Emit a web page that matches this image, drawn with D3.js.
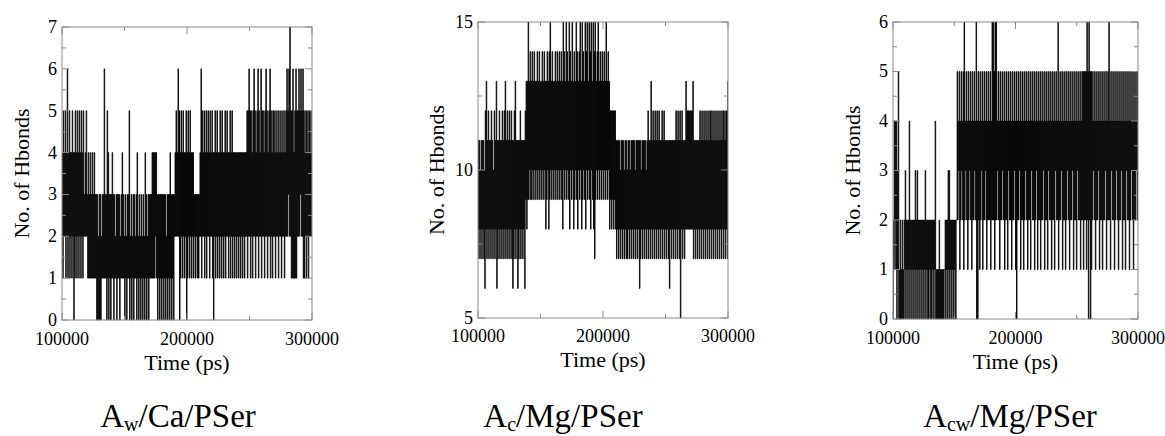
<!DOCTYPE html>
<html><head><meta charset="utf-8">
<script src="https://cdn.jsdelivr.net/npm/d3@7"></script>
<style>body{margin:0;background:#fff}</style>
</head><body><svg id="c" width="1165" height="436" font-family="'Liberation Serif', 'Times New Roman', Times, Tinos, 'DejaVu Serif', serif"></svg>
<script>
// ---- data: number of H-bonds, samples evenly spaced in time ----
const timeRange = [100000, 300000];
const xTickValues = [100000, 200000, 300000];
const xMinorTickValues = [150000, 250000];

// Aw/Ca/PSer
const hbondsAwCa = [
 2,4,1,5,2,4,2,5,1,4,2,6,1,4,2,5,1,4,2,4,
 1,5,2,4,0,4,1,5,2,4,1,5,2,4,1,5,2,4,1,5,
 2,4,1,5,2,3,2,4,2,5,2,3,1,4,1,3,1,4,1,3,
 1,4,1,3,1,4,1,3,1,3,0,3,0,2,0,3,0,3,0,2,
 1,3,1,3,1,6,1,3,1,3,0,5,1,4,0,3,1,3,0,3,
 1,4,1,3,0,3,1,2,1,3,0,3,1,3,1,3,0,2,1,3,
 1,4,1,3,1,2,0,3,1,2,0,3,1,3,1,5,0,2,1,3,
 0,2,1,3,0,3,1,2,1,3,0,4,1,2,0,3,1,2,0,3,
 1,2,0,3,1,2,0,4,1,3,0,2,1,3,0,3,1,3,1,3,
 1,4,1,4,1,4,1,4,2,4,1,3,0,3,1,3,0,3,1,3,
 0,3,1,3,0,3,1,3,0,2,1,3,0,3,1,3,0,4,1,3,
 0,3,1,3,0,3,2,4,2,5,2,4,2,6,2,5,0,4,1,5,
 2,4,1,5,2,4,1,4,2,5,0,4,1,5,2,4,1,5,2,4,
 1,4,2,4,1,3,2,3,1,3,2,3,1,3,1,3,2,4,2,6,
 1,5,2,4,2,5,1,4,2,5,1,4,2,5,2,4,1,5,2,4,
 2,5,1,4,0,4,2,5,1,4,2,5,1,4,2,4,1,5,2,4,
 1,5,2,4,1,4,2,5,1,4,2,5,2,4,1,4,2,5,1,4,
 2,5,1,4,2,4,1,4,2,4,1,4,2,4,1,4,2,4,1,4,
 2,4,1,4,2,4,1,4,2,4,2,5,1,5,2,6,2,5,1,5,
 2,4,1,5,2,6,2,5,1,4,2,5,2,6,1,5,2,4,2,6,
 1,5,2,5,2,4,1,5,2,6,2,5,1,4,2,5,2,6,1,5,
 2,4,1,5,2,5,2,4,1,5,2,4,2,5,1,4,2,5,2,4,
 1,5,2,4,2,5,1,4,2,5,2,6,2,5,3,6,2,7,2,5,
 1,5,1,6,1,4,1,5,1,6,1,5,2,5,2,6,2,5,3,6,
 2,5,2,6,1,5,1,4,2,5,1,5,2,4,1,5,2,5,2,4,2,5
];
// Ac/Mg/PSer
const hbondsAcMg = [
 7,11,8,11,7,10,8,11,7,11,8,11,7,10,6,12,8,13,7,11,
 8,12,7,11,8,11,7,12,8,11,7,10,8,12,7,11,8,13,6,11,
 7,11,8,12,7,11,8,11,7,12,8,11,7,12,8,13,7,11,8,12,
 7,11,8,12,7,11,8,12,7,11,6,11,7,12,8,13,7,11,8,11,
 6,11,7,11,8,12,7,11,8,11,7,11,8,11,6,12,9,13,8,13,
 9,15,9,13,10,14,9,13,9,14,10,13,9,14,10,13,9,13,10,14,
 9,13,10,14,9,13,10,13,9,14,10,13,9,14,10,13,8,13,9,14,
 10,13,8,14,9,15,10,13,9,14,10,13,9,13,10,14,9,13,10,14,
 9,13,10,14,9,13,10,14,9,13,8,15,10,14,9,13,10,15,9,14,
 10,13,9,15,8,14,10,13,9,15,10,13,8,14,9,13,10,15,9,14,
 8,13,10,14,9,15,10,13,8,15,9,14,10,13,9,15,8,14,10,15,
 9,13,10,15,9,14,8,15,10,13,9,15,8,14,7,15,9,13,10,14,
 9,15,10,13,9,14,10,13,9,14,10,13,9,14,10,13,9,15,10,13,
 9,14,10,13,8,12,9,12,8,12,9,12,8,12,9,12,8,11,7,11,
 8,11,7,11,8,10,7,11,8,11,7,11,8,10,7,11,8,11,7,10,
 7,11,8,11,7,10,8,11,7,11,8,11,7,11,8,10,7,11,8,11,
 7,11,8,11,6,11,7,10,8,11,7,11,8,11,7,11,8,10,7,11,
 8,12,7,11,8,11,7,13,8,11,7,12,8,11,7,12,8,11,7,12,
 8,11,7,12,8,11,7,11,8,12,7,11,8,12,7,11,8,11,7,11,
 8,11,7,11,6,11,8,11,7,11,8,11,7,11,8,11,7,12,8,11,
 7,12,8,11,7,12,5,11,8,12,7,11,8,11,7,11,8,13,8,12,
 8,12,8,12,8,12,8,12,8,12,8,13,7,11,8,11,7,11,8,11,
 7,11,8,11,7,12,8,11,7,12,8,11,7,12,8,11,7,12,8,11,
 7,12,8,11,7,12,8,12,7,11,8,12,7,11,8,12,7,11,8,12,
 7,11,8,12,7,11,8,12,7,11,8,12,7,12,8,11,7,12,8,12,7,13
];
// Acw/Mg/PSer
const hbondsAcwMg = [
 0,2,1,4,2,4,1,4,0,3,1,5,0,1,0,2,0,1,0,2,
 0,1,0,2,1,3,0,2,1,2,0,2,1,4,0,2,1,2,0,2,
 1,2,0,2,1,3,0,2,1,3,0,2,1,2,0,2,1,2,0,2,
 1,2,0,2,1,3,0,2,1,2,0,2,0,2,1,2,0,2,0,2,
 1,2,0,2,1,4,0,1,0,1,0,1,0,2,0,1,0,1,0,1,
 0,1,0,1,1,2,0,2,1,2,0,3,1,3,0,2,1,2,0,2,
 1,2,0,2,1,2,0,2,2,5,2,4,3,5,1,4,2,5,3,4,
 2,5,1,6,2,4,3,5,2,4,1,5,2,4,3,5,2,4,1,5,
 2,4,2,5,3,4,2,6,0,4,0,5,2,4,1,5,2,4,3,5,
 1,4,2,5,2,4,3,5,1,4,2,5,2,4,2,5,1,4,2,6,
 2,6,2,5,1,6,2,6,2,4,3,5,2,4,1,5,2,4,2,5,
 3,4,2,5,1,4,2,5,2,4,1,5,3,4,2,5,2,4,1,5,
 2,4,2,5,3,4,1,5,0,4,2,5,2,4,3,5,1,4,2,5,
 2,4,1,5,2,4,3,5,2,4,1,5,2,4,2,5,1,4,3,5,
 2,4,2,5,1,4,2,5,3,4,1,5,2,4,2,5,1,4,2,5,
 2,4,3,5,1,4,2,5,2,4,1,5,3,4,2,5,2,4,1,5,
 2,4,2,5,1,4,3,5,2,4,2,6,1,4,2,5,2,4,3,5,
 1,4,2,5,2,4,1,5,2,4,3,5,2,4,1,5,2,4,2,5,
 3,4,1,5,2,4,2,5,1,4,3,5,2,4,2,5,1,4,2,5,
 2,5,1,5,2,5,2,5,1,6,2,5,0,6,2,5,0,5,1,5,
 2,4,3,5,2,4,1,5,2,4,2,5,3,4,1,5,2,4,2,5,
 1,4,2,5,2,4,3,5,1,4,2,5,2,6,2,4,1,5,3,4,
 2,5,2,4,1,5,2,4,3,5,2,4,1,5,2,4,2,5,3,4,
 1,5,2,4,2,5,1,4,3,5,2,4,2,5,1,4,2,5,3,4,
 2,5,1,4,2,5,2,4,3,5,2,5
];

const yDomainAwCa = [0, 7], yTicksAwCa = [0,1,2,3,4,5,6,7], yMinorAwCa = [0.5,1.5,2.5,3.5,4.5,5.5,6.5];
const yDomainAcMg = [5, 15], yTicksAcMg = [5,10,15], yMinorAcMg = [7.5,12.5];
const yDomainAcwMg = [0, 6], yTicksAcwMg = [0,1,2,3,4,5,6], yMinorAcwMg = [0.5,1.5,2.5,3.5,4.5,5.5];

const xLabel = "Time (ps)";
const yLabel = "No. of Hbonds";
// caption: [main, subscript, rest]
const captionAwCa = ["A", "w", "/Ca/PSer"];
const captionAcMg = ["A", "c", "/Mg/PSer"];
const captionAcwMg = ["A", "cw", "/Mg/PSer"];

// ---- layout ----
const panels = [
  {data: hbondsAwCa, dom: yDomainAwCa, ticks: yTicksAwCa, minor: yMinorAwCa, cap: captionAwCa,
   l: 62, r: 312, t: 27, b: 320, tickY: 345, labY: 370, ylabX: 22, capX: 178},
  {data: hbondsAcMg, dom: yDomainAcMg, ticks: yTicksAcMg, minor: yMinorAcMg, cap: captionAcMg,
   l: 478, r: 728, t: 22, b: 318, tickY: 342, labY: 367, ylabX: 437, capX: 563},
  {data: hbondsAcwMg, dom: yDomainAcwMg, ticks: yTicksAcwMg, minor: yMinorAcwMg, cap: captionAcwMg,
   l: 893, r: 1138, t: 22, b: 319, tickY: 344, labY: 369, ylabX: 853, capX: 1010}
];

const svg = d3.select("#c");
const frameColor = "#8a8a8a";

panels.forEach((p, k) => {
  const x = d3.scaleLinear().domain(timeRange).range([p.l, p.r]);
  const y = d3.scaleLinear().domain(p.dom).range([p.b, p.t]);
  const n = p.data.length;
  const tOf = i => timeRange[0] + i * (timeRange[1] - timeRange[0]) / (n - 1);

  svg.append("clipPath").attr("id", "clip" + k)
    .append("rect").attr("x", p.l).attr("y", p.t - 1).attr("width", p.r - p.l).attr("height", p.b - p.t + 2);

  const line = d3.line().curve(d3.curveStep).x((d, i) => x(tOf(i))).y(d => y(d));
  svg.append("path").datum(p.data).attr("d", line)
    .attr("fill", "none").attr("stroke", "#000").attr("stroke-width", 0.9)
    .attr("clip-path", `url(#clip${k})`);

  // frame
  svg.append("rect").attr("x", p.l).attr("y", p.t).attr("width", p.r - p.l).attr("height", p.b - p.t)
    .attr("fill", "none").attr("stroke", frameColor).attr("stroke-width", 1);

  const g = svg.append("g").attr("stroke", frameColor).attr("stroke-width", 1);
  const xt = [...xTickValues.map(v => [v, 7]), ...xMinorTickValues.map(v => [v, 4])];
  xt.forEach(([v, len]) => {
    g.append("line").attr("x1", x(v)).attr("x2", x(v)).attr("y1", p.b).attr("y2", p.b - len);
    g.append("line").attr("x1", x(v)).attr("x2", x(v)).attr("y1", p.t).attr("y2", p.t + len);
  });
  const yt = [...p.ticks.map(v => [v, 7]), ...p.minor.map(v => [v, 4])];
  yt.forEach(([v, len]) => {
    g.append("line").attr("x1", p.l).attr("x2", p.l + len).attr("y1", y(v)).attr("y2", y(v));
    g.append("line").attr("x1", p.r).attr("x2", p.r - len).attr("y1", y(v)).attr("y2", y(v));
  });

  // tick labels
  xTickValues.forEach(v => {
    svg.append("text").attr("x", x(v)).attr("y", p.tickY).attr("text-anchor", "middle")
      .attr("font-size", 18).text(v);
  });
  p.ticks.forEach(v => {
    svg.append("text").attr("x", p.l - 5).attr("y", y(v)).attr("dy", "0.33em").attr("text-anchor", "end")
      .attr("font-size", 18).text(v);
  });

  // axis labels
  svg.append("text").attr("x", (p.l + p.r) / 2).attr("y", p.labY).attr("text-anchor", "middle")
    .attr("font-size", 22).text(xLabel);
  svg.append("text").attr("transform", `translate(${p.ylabX},${(p.t + p.b) / 2}) rotate(-90)`)
    .attr("text-anchor", "middle").attr("dy", "0.33em").attr("font-size", 22).text(yLabel);

  // caption
  const c = svg.append("text").attr("x", p.capX).attr("y", 427).attr("text-anchor", "middle").attr("font-size", 33);
  c.append("tspan").text(p.cap[0]);
  c.append("tspan").attr("font-size", 20).attr("dy", 4).text(p.cap[1]);
  c.append("tspan").attr("dy", -4).text(p.cap[2]);
});
</script></body></html>
